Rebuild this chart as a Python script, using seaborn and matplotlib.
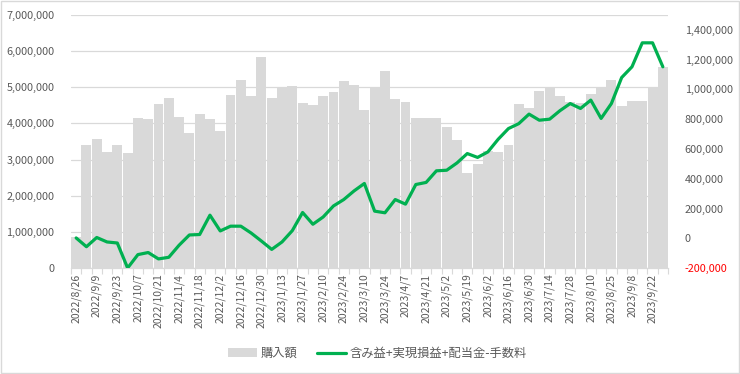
import numpy as np
import pandas as pd
import matplotlib
matplotlib.use("Agg")
import matplotlib.pyplot as plt
import seaborn as sns
from matplotlib.lines import Line2D
from matplotlib.patches import Patch, Rectangle
from matplotlib.ticker import FuncFormatter, FixedLocator


dates = [
    "2022/8/26", "2022/9/2", "2022/9/9", "2022/9/16", "2022/9/23", "2022/9/30",
    "2022/10/7", "2022/10/14", "2022/10/21", "2022/10/28", "2022/11/4", "2022/11/11",
    "2022/11/18", "2022/11/25", "2022/12/2", "2022/12/9", "2022/12/16", "2022/12/23",
    "2022/12/30", "2023/1/6", "2023/1/13", "2023/1/20", "2023/1/27", "2023/2/3",
    "2023/2/10", "2023/2/17", "2023/2/24", "2023/3/3", "2023/3/10", "2023/3/17",
    "2023/3/24", "2023/3/31", "2023/4/7", "2023/4/14", "2023/4/21", "2023/4/28",
    "2023/5/2", "2023/5/12", "2023/5/19", "2023/5/26", "2023/6/2", "2023/6/9",
    "2023/6/16", "2023/6/23", "2023/6/30", "2023/7/7", "2023/7/14", "2023/7/21",
    "2023/7/28", "2023/8/4", "2023/8/10", "2023/8/18", "2023/8/25", "2023/9/1",
    "2023/9/8", "2023/9/15", "2023/9/22", "2023/9/29",
]

# 購入額 (left axis)
purchase = [
    870000, 3410000, 3580000, 3210000, 3410000, 3180000, 4150000, 4130000, 4540000, 4710000,
    4180000, 3740000, 4270000, 4110000, 3790000, 4790000, 5210000, 4750000, 5840000, 4690000,
    4990000, 5040000, 4570000, 4510000, 4760000, 4860000, 5180000, 5070000, 4360000, 4990000,
    5460000, 4680000, 4600000, 4160000, 4160000, 4140000, 3910000, 3530000, 2630000, 2880000,
    3230000, 3200000, 3390000, 4540000, 4440000, 4910000, 5010000, 4760000, 4580000, 4570000,
    4820000, 4990000, 5210000, 4490000, 4630000, 4630000, 4990000, 5550000,
]

# 含み益+実現損益+配当金-手数料 (right axis)
profit = [
    2000, -57000, 5000, -25000, -32000, -200000, -110000, -96000, -139000, -128000,
    -47000, 22000, 25000, 155000, 49000, 81000, 81000, 35000, -19000, -75000,
    -25000, 51000, 173000, 94000, 143000, 217000, 260000, 318000, 368000, 182000,
    171000, 260000, 229000, 361000, 375000, 453000, 457000, 506000, 569000, 543000,
    580000, 665000, 737000, 770000, 834000, 793000, 800000, 857000, 905000, 872000,
    928000, 805000, 905000, 1080000, 1152000, 1313000, 1313000, 1152000,
]

bar_label = "購入額"
line_label = "含み益+実現損益+配当金-手数料"

sns.set_theme(style="white")
plt.rcParams["font.family"] = ["Noto Sans CJK JP", "DejaVu Sans"]

text_color = "#595959"
grid_color = "#D9D9D9"
bar_color = "#D9D9D9"
line_color = "#00B050"

df = pd.DataFrame({"date": dates, "purchase": purchase, "profit": profit})
df["pos"] = np.arange(len(df))

fig = plt.figure(figsize=(7.4, 3.74), dpi=100)
fig.subplots_adjust(left=71 / 740, right=668 / 740, top=1 - 15 / 374, bottom=1 - 268 / 374)
ax = fig.add_subplot(111)

sns.barplot(data=df, x="date", y="purchase", color=bar_color, width=0.96,
            saturation=1, edgecolor="none", ax=ax)
ax.set_axisbelow(True)
ax.set_ylim(0, 7000000)
ax.set_yticks(np.arange(0, 7000001, 1000000))
ax.yaxis.set_major_formatter(FuncFormatter(lambda v, _: f"{v:,.0f}"))
ax.grid(axis="y", color=grid_color, linewidth=0.9)
ax.grid(axis="x", visible=False)
ax.set_xlim(-0.5, len(df) - 0.5)
ax.set_xlabel("")
ax.set_ylabel("")

ax.set_xticks(df["pos"][::2])
ax.set_xticklabels(df["date"][::2], rotation=90, fontsize=7.5, color=text_color)
ax.xaxis.set_minor_locator(FixedLocator(np.arange(-0.5, len(df), 1)))
ax.tick_params(axis="x", which="major", length=0, pad=4)
ax.tick_params(axis="x", which="minor", length=4, color=grid_color, width=0.8, bottom=True)
ax.tick_params(axis="y", length=0, labelsize=7.8, labelcolor=text_color, pad=12)

for side in ["top", "left", "right"]:
    ax.spines[side].set_visible(False)
ax.spines["bottom"].set_color(grid_color)
ax.spines["bottom"].set_linewidth(0.9)

ax2 = ax.twinx()
sns.lineplot(data=df, x="pos", y="profit", color=line_color, linewidth=2.3, ax=ax2)
ax2.set_ylim(-200000, 1500000)
ax2.set_yticks(np.arange(-200000, 1400001, 200000))
ax2.yaxis.set_major_formatter(FuncFormatter(lambda v, _: f"{v:,.0f}"))
ax2.tick_params(axis="y", length=0, labelsize=7.8, labelcolor=text_color, pad=12)
for lbl, v in zip(ax2.get_yticklabels(), ax2.get_yticks()):
    if v < 0:
        lbl.set_color("#FF0000")
ax2.set_xlim(-0.5, len(df) - 0.5)
ax2.set_xlabel("")
ax2.set_ylabel("")
ax2.grid(False)
for side in ["top", "left", "right", "bottom"]:
    ax2.spines[side].set_visible(False)

handles = [
    Patch(facecolor=bar_color, edgecolor="none"),
    Line2D([0], [0], color=line_color, linewidth=2.3),
]
fig.legend(handles, [bar_label, line_label], loc="center", bbox_to_anchor=(0.51, 0.055),
           ncol=2, frameon=False, fontsize=8.8, handlelength=2.4, handletextpad=0.3,
           columnspacing=1.6, labelcolor=text_color)

fig.patches.append(Rectangle((0.001, 0.002), 0.997, 0.995, transform=fig.transFigure,
                             fill=False, edgecolor="#D9D9D9", linewidth=1.0))

fig.savefig("out.png", dpi=100)
